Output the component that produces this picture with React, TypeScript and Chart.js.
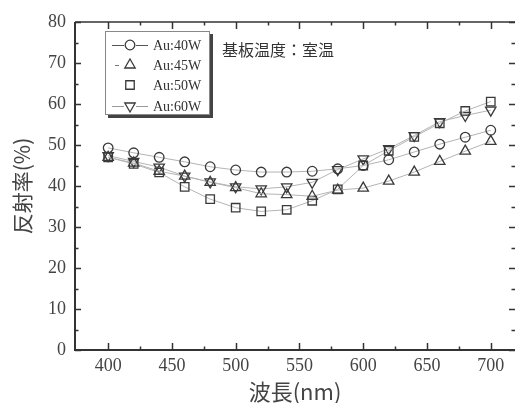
import React, { useEffect, useRef } from 'react';
import { Chart, registerables } from 'chart.js';
import { drawPoint } from 'chart.js/helpers';

Chart.register(...registerables);

// Wavelengths of the measurements (nm)
const WAVELENGTHS = [400, 420, 440, 460, 480, 500, 520, 540, 560, 580, 600, 620, 640, 660, 680, 700];

// Reflectance (%) for each sputtering power
const AU_40W = [49.3, 48.1, 47.0, 45.9, 44.7, 43.9, 43.4, 43.4, 43.6, 44.2, 45.0, 46.4, 48.3, 50.2, 51.9, 53.6];
const AU_45W = [47.0, 45.6, 43.6, 42.4, 40.9, 39.6, 38.1, 37.9, 37.5, 39.0, 39.5, 41.2, 43.4, 46.0, 48.5, 50.9];
const AU_50W = [47.0, 45.4, 43.3, 39.8, 36.8, 34.7, 33.8, 34.2, 36.4, 39.2, 45.0, 48.6, 52.0, 55.3, 58.3, 60.6];
const AU_60W = [47.4, 46.0, 44.6, 42.4, 41.0, 39.8, 39.3, 39.8, 40.9, 44.0, 46.6, 49.1, 52.3, 55.7, 57.2, 58.5];

const SERIES_LABELS = ['Au:40W', 'Au:45W', 'Au:50W', 'Au:60W'];

const X_TICKS = [400, 450, 500, 550, 600, 650, 700];
const X_MINOR = [425, 475, 525, 575, 625, 675];
const Y_TICKS = [0, 10, 20, 30, 40, 50, 60, 70, 80];
const Y_MINOR = [5, 15, 25, 35, 45, 55, 65, 75];

const X_TITLE = '波長(nm)';
const Y_TITLE = '反射率(%)';
const NOTE = '基板温度：室温';

const INK = '#333333';
const MARK = '#3a3a3a';
const LINK = '#b4b4b4';
const CJK = '"Noto Sans CJK JP", "Noto Sans", sans-serif';
const SERIF = '"Liberation Serif", "DejaVu Serif", serif';

const MARKERS = [
  { pointStyle: 'circle', radius: 4.8, rotation: 0 },
  { pointStyle: 'triangle', radius: 6, rotation: 0 },
  { pointStyle: 'rect', radius: 6, rotation: 0 },
  { pointStyle: 'triangle', radius: 6, rotation: 180 },
];
// sample line drawn next to each legend marker
const LEGEND_LINES = ['solid', 'dash', 'none', 'gray'];

const toPoints = (ys: number[]) => WAVELENGTHS.map((x, i) => ({ x, y: ys[i] }));

// Frame lines and inward-facing ticks on all four sides
const framePlugin = {
  id: 'frameTicks',
  afterDatasetsDraw(chart: any) {
    const { ctx, chartArea: a, scales } = chart;
    const xs = scales.x;
    const ys = scales.y;
    ctx.save();
    ctx.strokeStyle = INK;
    ctx.lineCap = 'butt';

    ctx.lineWidth = 2;
    ctx.beginPath();
    ctx.moveTo(a.left, a.top);
    ctx.lineTo(a.left, a.bottom);
    ctx.lineTo(a.right, a.bottom);
    ctx.stroke();

    ctx.lineWidth = 1.5;
    ctx.beginPath();
    ctx.moveTo(a.left, a.top);
    ctx.lineTo(a.right, a.top);
    ctx.stroke();

    ctx.lineWidth = 1.5;
    const vTick = (v: number, len: number) => {
      const px = Math.round(xs.getPixelForValue(v)) + 0.5;
      ctx.beginPath();
      ctx.moveTo(px, a.bottom);
      ctx.lineTo(px, a.bottom - len);
      ctx.moveTo(px, a.top);
      ctx.lineTo(px, a.top + len);
      ctx.stroke();
    };
    const hTick = (v: number, len: number) => {
      const py = Math.round(ys.getPixelForValue(v)) + 0.5;
      ctx.beginPath();
      ctx.moveTo(a.left, py);
      ctx.lineTo(a.left + len, py);
      ctx.moveTo(a.right, py);
      ctx.lineTo(a.right - len, py);
      ctx.stroke();
    };
    X_TICKS.forEach((v) => vTick(v, 7));
    X_MINOR.forEach((v) => vTick(v, 3.5));
    Y_TICKS.forEach((v) => hTick(v, 6));
    Y_MINOR.forEach((v) => hTick(v, 3.5));
    ctx.restore();
  },
};

// Boxed legend with drop shadow plus the substrate temperature note
const legendPlugin = {
  id: 'boxLegend',
  afterDraw(chart: any) {
    const { ctx } = chart;
    const left = 105;
    const top = 31;
    const w = 105;
    const h = 84;
    ctx.save();
    ctx.fillStyle = '#444';
    ctx.fillRect(left + 3, top + 3, w, h);
    ctx.fillStyle = '#fff';
    ctx.fillRect(left, top, w, h);
    ctx.strokeStyle = '#888';
    ctx.lineWidth = 1;
    ctx.strokeRect(left + 0.5, top + 0.5, w - 1, h - 1);

    const rows = [45, 65, 85, 106];
    const mx = 130;
    chart.data.datasets.forEach((ds: any, i: number) => {
      const y = rows[i];
      const style = LEGEND_LINES[i];
      ctx.lineWidth = 1;
      if (style === 'solid' || style === 'gray') {
        ctx.strokeStyle = style === 'solid' ? '#555' : '#999';
        ctx.beginPath();
        ctx.moveTo(112, y + 0.5);
        ctx.lineTo(124, y + 0.5);
        ctx.moveTo(136, y + 0.5);
        ctx.lineTo(148, y + 0.5);
        ctx.stroke();
      } else if (style === 'dash') {
        ctx.strokeStyle = '#777';
        ctx.beginPath();
        ctx.moveTo(115, y + 0.5);
        ctx.lineTo(119, y + 0.5);
        ctx.stroke();
      }
      const m = MARKERS[i];
      ctx.strokeStyle = MARK;
      ctx.fillStyle = 'rgba(0,0,0,0)';
      ctx.lineWidth = 1.3;
      drawPoint(ctx, { pointStyle: m.pointStyle, rotation: m.rotation, radius: m.radius, borderWidth: 1.3 } as any, mx, y);

      ctx.fillStyle = INK;
      ctx.font = `14px ${SERIF}`;
      ctx.textAlign = 'left';
      ctx.textBaseline = 'middle';
      ctx.fillText(ds.label, 153, y + 1);
    });

    ctx.fillStyle = INK;
    ctx.font = `16px ${CJK}`;
    ctx.textAlign = 'left';
    ctx.textBaseline = 'middle';
    ctx.fillText(NOTE, 222, 50);
    ctx.restore();
  },
};

export default function App() {
  const canvasRef = useRef<HTMLCanvasElement | null>(null);

  useEffect(() => {
    const canvas = canvasRef.current;
    if (!canvas) return;
    const series = [AU_40W, AU_45W, AU_50W, AU_60W];
    const chart = new Chart(canvas, {
      type: 'line',
      data: {
        datasets: series.map((ys, i) => ({
          label: SERIES_LABELS[i],
          data: toPoints(ys),
          borderColor: LINK,
          borderWidth: 1,
          tension: 0,
          fill: false,
          pointStyle: MARKERS[i].pointStyle as any,
          pointRadius: MARKERS[i].radius,
          pointRotation: MARKERS[i].rotation,
          pointBorderColor: MARK,
          pointBackgroundColor: 'rgba(0,0,0,0)',
          pointBorderWidth: 1.3,
        })),
      },
      options: {
        responsive: false,
        maintainAspectRatio: false,
        animation: false,
        events: [],
        layout: { autoPadding: false, padding: { top: 22, right: 0, bottom: 0, left: 0 } },
        plugins: {
          legend: { display: false },
          tooltip: { enabled: false },
        },
        scales: {
          x: {
            type: 'linear',
            min: 374,
            max: 719,
            grid: { display: false, drawTicks: false },
            border: { display: false },
            afterBuildTicks: (scale: any) => {
              scale.ticks = X_TICKS.map((value) => ({ value }));
            },
            afterFit: (scale: any) => {
              scale.height = 53;
              scale.paddingLeft = 0;
              scale.paddingRight = 0;
            },
            ticks: {
              padding: 5,
              color: '#444',
              font: { family: SERIF, size: 18 },
              maxRotation: 0,
              autoSkip: false,
            },
            title: {
              display: true,
              text: X_TITLE,
              color: '#444',
              font: { family: CJK, size: 22, lineHeight: 1 },
              padding: { top: 0, bottom: 0 },
            },
          },
          y: {
            type: 'linear',
            min: 0,
            max: 80,
            grid: { display: false, drawTicks: false },
            border: { display: false },
            afterBuildTicks: (scale: any) => {
              scale.ticks = Y_TICKS.map((value) => ({ value }));
            },
            afterFit: (scale: any) => {
              scale.width = 75;
              scale.paddingTop = 0;
              scale.paddingBottom = 0;
            },
            ticks: {
              padding: 9,
              color: '#444',
              font: { family: SERIF, size: 18 },
            },
            title: {
              display: true,
              text: Y_TITLE,
              color: '#444',
              font: { family: CJK, size: 21, lineHeight: 1.2 },
              padding: { top: 9, bottom: 0 },
            },
          },
        },
      },
      plugins: [framePlugin, legendPlugin],
    });
    return () => chart.destroy();
  }, []);

  return (
    <div style={{ position: 'fixed', left: 0, top: 0, width: 515, height: 403, background: '#fff', overflow: 'hidden' }}>
      <canvas ref={canvasRef} width={515} height={403} style={{ display: 'block', width: 515, height: 403 }} />
    </div>
  );
}
